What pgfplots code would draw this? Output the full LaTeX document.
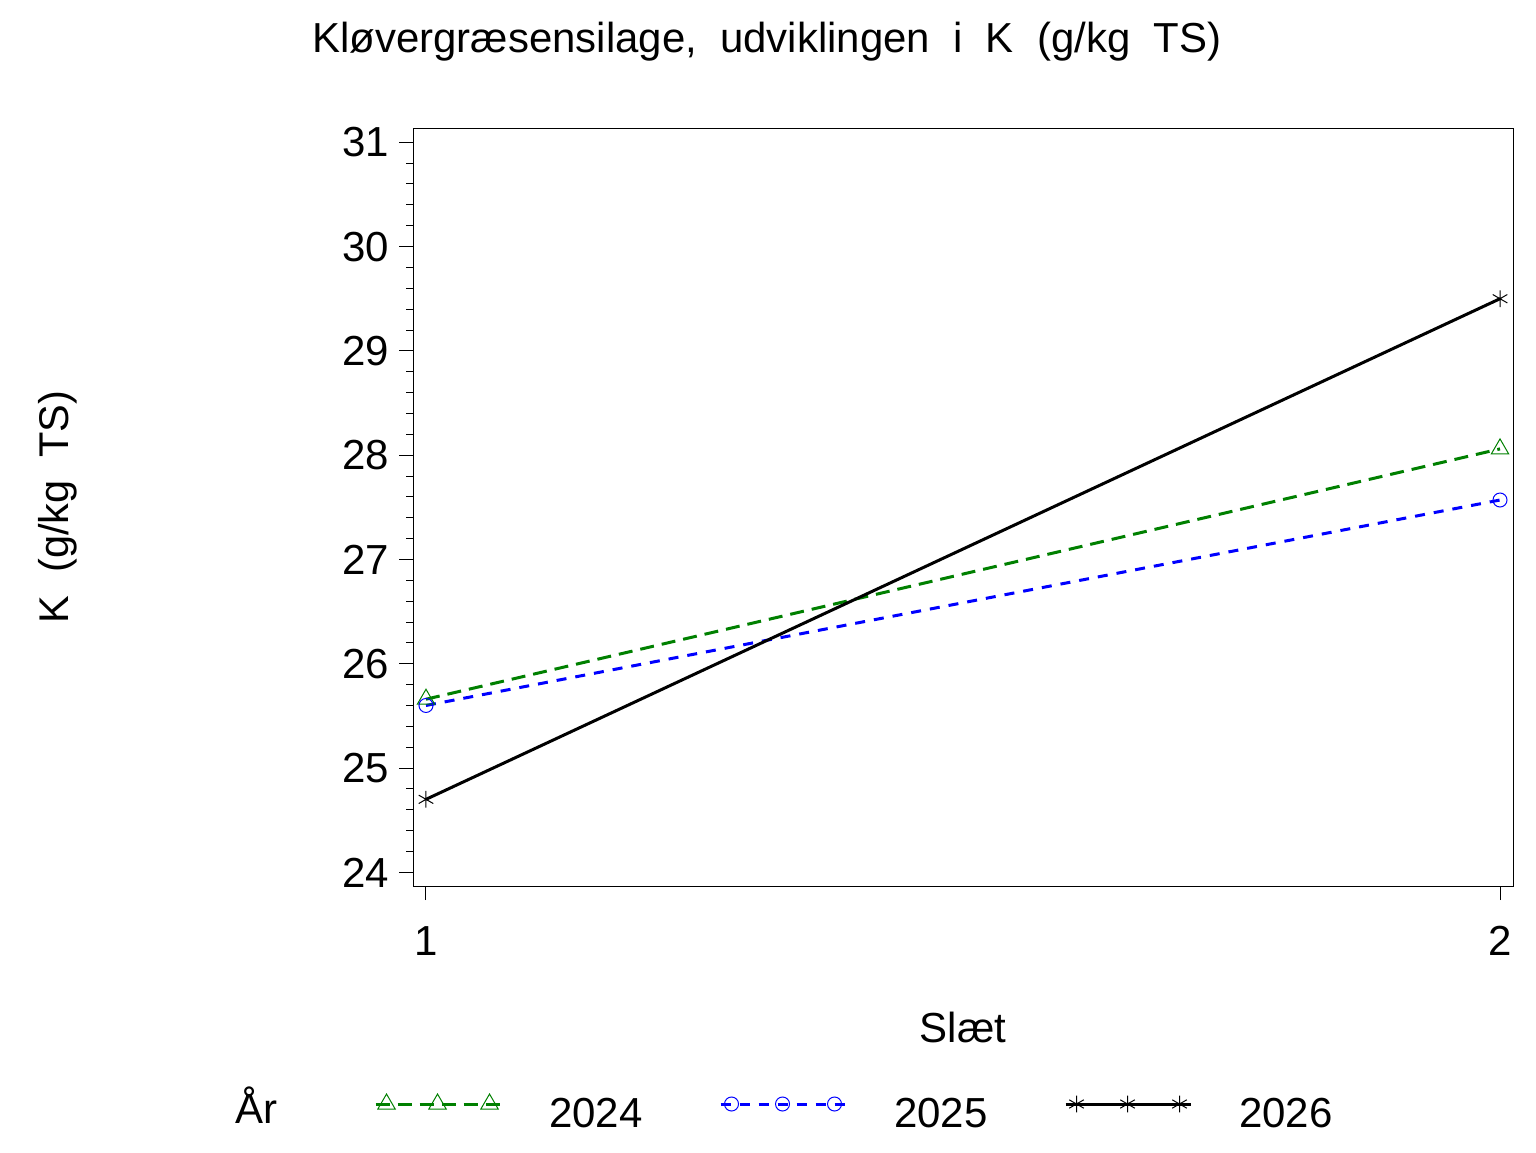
\documentclass[border=0pt]{standalone}
\usepackage{pgfplots}
\pgfplotsset{compat=1.18}
\usepackage{fontspec}
\setmainfont{Liberation Sans}
\usepackage{graphicx}
\definecolor{sasgreen}{RGB}{0,128,0}
\definecolor{sasblue}{RGB}{0,0,255}
\pgfplotsset{
  mylegend/.style={legend image code/.code={
    \draw[##1, mark=none] (0pt,3.5pt) -- (62.5pt,3.5pt);
    \draw[##1, only marks] plot coordinates {(5.5pt,3.5pt) (31pt,3.5pt) (57pt,3.5pt)};
  }}
}
\pgfplotstableread{
slaet y2024 y2025 y2026
1 25.66 25.60 24.70
2 28.06 27.57 29.50
}\datatable
\begin{document}
\begin{tikzpicture}
\path[use as bounding box] (0pt,0pt) rectangle (768pt,576pt);
\begin{axis}[
  at={(206.65pt,133pt)}, anchor=south west,
  scale only axis, width=550pt, height=378.85pt,
  xmin=0.98818, xmax=2.01238,
  ymin=23.869, ymax=31.134,
  xtick={1,2}, ytick={24,25,...,31},
  minor y tick num=4,
  xtick pos=bottom, ytick pos=left,
  tick align=outside,
  major tick length=7pt, minor tick length=3.5pt,
  axis line style={line width=0.5pt, black},
  every tick/.style={line width=0.5pt, black},
  /pgf/number format/assume math mode=true,
  ticklabel style={font=\fontsize{21}{21}\selectfont, inner sep=0pt},
  yticklabel style={anchor=east, xshift=-5pt},
  xticklabel style={anchor=north, yshift=-13pt},
  clip=false,
  legend columns=3,
  legend style={draw=none, fill=none, inner sep=0pt, outer sep=0pt,
    at={(-0.0357,-0.2963)}, anchor=west,
    nodes={inner sep=0pt, text width=50pt, text height=16pt, text depth=0pt, anchor=west,
      font=\fontsize{21}{21}\selectfont},
    /tikz/every odd column/.append style={column sep=23.5pt},
    /tikz/every even column/.append style={column sep=35pt}},
]
\addplot[color=sasgreen, line width=1.5pt, dash pattern=on 7pt off 4pt,
  mark=triangle, mark size=5pt, mark options={solid, line width=0.5pt}, mylegend]
  table[x=slaet, y=y2024] {\datatable};
\addlegendentry{2024}
\addplot[color=sasblue, line width=1.5pt, dash pattern=on 5pt off 4.5pt,
  mark=o, mark size=3.5pt, mark options={solid, line width=0.5pt}, mylegend]
  table[x=slaet, y=y2025] {\datatable};
\addlegendentry{2025}
\addplot[color=black, line width=1.5pt, solid,
  mark=asterisk, mark size=4.2pt, mark options={solid, line width=0.5pt}, mylegend]
  table[x=slaet, y=y2026] {\datatable};
\addlegendentry{2026}
\end{axis}
\node[anchor=base, inner sep=0pt] at (383.5pt,549.5pt)
  {\resizebox{454.5pt}{!}{\fontsize{21}{21}\selectfont Kløvergræsensilage,\ \ udviklingen\ \ i\ \ K\ \ (g/kg\ \ TS)}};
\node[anchor=base, inner sep=0pt] at (481.5pt,55pt)
  {\fontsize{21}{21}\selectfont Slæt};
\node[anchor=base, inner sep=0pt, rotate=90] at (34.5pt,322.5pt)
  {\resizebox{116.5pt}{!}{\fontsize{21}{21}\selectfont K\ \ (g/kg\ \ TS)}};
\node[anchor=base west, inner sep=0pt] at (117.5pt,14.5pt)
  {\fontsize{21}{21}\selectfont År};
\end{tikzpicture}
\end{document}
